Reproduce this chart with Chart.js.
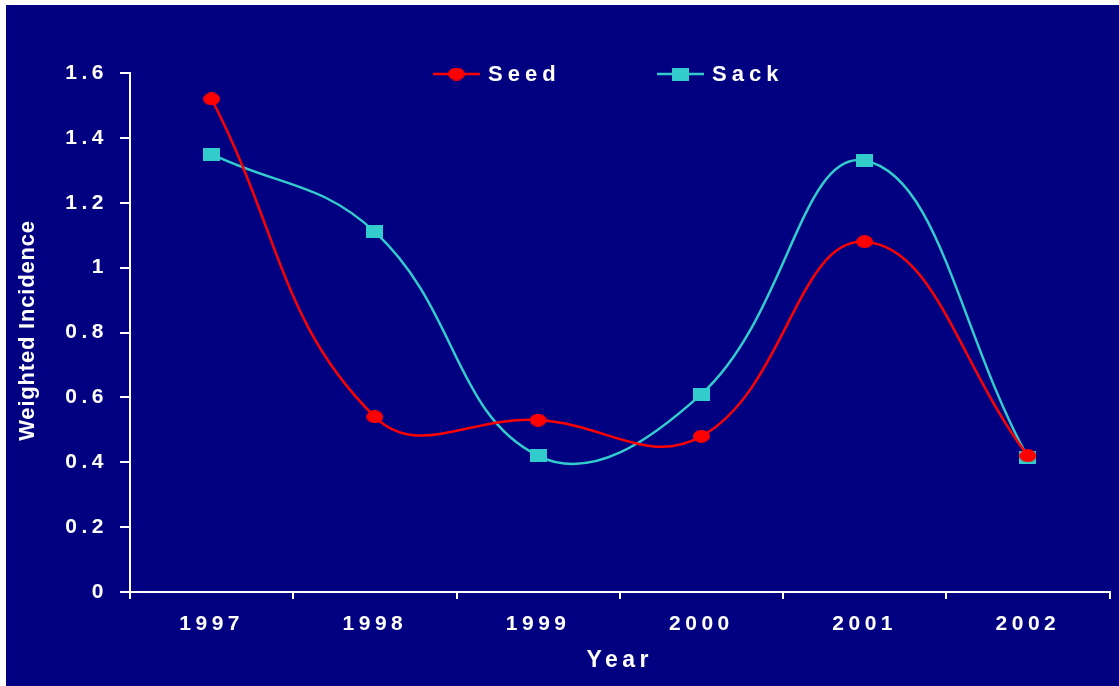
<!DOCTYPE html>
<html lang="en">
<head>
<meta charset="UTF-8" />
<title>Weighted Incidence</title>
<script src="https://cdn.jsdelivr.net/npm/chart.js@4.4.0/dist/chart.umd.min.js"></script>
<style>
    body { margin: 0; background: #fff; }
    .frame { position: absolute; left: 6px; top: 5px; width: 1113px; height: 681px; background: #000080; }
    canvas { display: block; }
</style>
</head>
<body>
<div class="frame"><canvas id="chart" width="1113" height="681"></canvas></div>
<script>
    // data
    const years = ['1997', '1998', '1999', '2000', '2001', '2002'];
    const seed = [1.52, 0.54, 0.53, 0.48, 1.08, 0.42];
    const sack = [1.35, 1.11, 0.42, 0.61, 1.33, 0.415];
    const yTickLabels = ['0', '0.2', '0.4', '0.6', '0.8', '1', '1.2', '1.4', '1.6'];
    const seriesNames = ['Seed', 'Sack'];
    const seriesColors = ['#FF0000', '#33CCCC'];
    const xTitle = 'Year';
    const yTitle = 'Weighted Incidence';

    const FONT = '"Liberation Sans", Arial, sans-serif';
    Chart.defaults.font.family = FONT;
    Chart.defaults.color = '#fff';

    // excel style markers: wide ellipse and wide square
    function markerImage(shape, color) {
        const c = document.createElement('canvas');
        c.width = 17; c.height = 13;
        const g = c.getContext('2d');
        g.fillStyle = color;
        if (shape === 'ellipse') {
            g.beginPath();
            g.ellipse(8.5, 6.5, 8.5, 6.5, 0, 0, Math.PI * 2);
            g.fill();
        } else {
            g.fillRect(0, 0, 17, 13);
        }
        return c;
    }
    const markers = [markerImage('ellipse', seriesColors[0]), markerImage('rect', seriesColors[1])];

    // canvas letter spacing for the spaced out labels
    const spacingPlugin = {
        id: 'spacing',
        beforeUpdate(chart) { chart.ctx.letterSpacing = '4.5px'; },
        beforeLayout(chart) { chart.ctx.letterSpacing = '4.5px'; },
        beforeDraw(chart) { chart.ctx.letterSpacing = '4.5px'; }
    };

    // y title and legend drawn by hand (different spacing, legend sits inside the plot)
    const extrasPlugin = {
        id: 'extras',
        afterDraw(chart) {
            const ctx = chart.ctx;
            const area = chart.chartArea;

            ctx.save();
            ctx.fillStyle = '#fff';
            ctx.letterSpacing = '0.8px';
            ctx.font = 'bold 22px ' + FONT;
            ctx.translate(22, (area.top + area.bottom) / 2 - 2);
            ctx.rotate(-Math.PI / 2);
            ctx.textAlign = 'center';
            ctx.textBaseline = 'middle';
            ctx.fillText(yTitle, 0, 0);
            ctx.restore();

            const legendX = [427, 651];
            const legendY = 69;
            chart.data.datasets.forEach((ds, i) => {
                const x0 = legendX[i];
                ctx.save();
                ctx.strokeStyle = ds.borderColor;
                ctx.lineWidth = 2.5;
                ctx.beginPath();
                ctx.moveTo(x0, legendY);
                ctx.lineTo(x0 + 47, legendY);
                ctx.stroke();
                const m = ds.pointStyle;
                ctx.drawImage(m, x0 + 23.5 - m.width / 2, legendY - m.height / 2);
                ctx.fillStyle = '#fff';
                ctx.letterSpacing = '5px';
                ctx.font = 'bold 22px ' + FONT;
                ctx.textAlign = 'left';
                ctx.textBaseline = 'middle';
                ctx.fillText(ds.label, x0 + 55, legendY + 1);
                ctx.restore();
            });
        }
    };

    const ctx = document.getElementById('chart').getContext('2d');
    const chart = new Chart(ctx, {
        type: 'line',
        data: {
            labels: years,
            datasets: [seed, sack].map((values, i) => ({
                label: seriesNames[i],
                data: values,
                borderColor: seriesColors[i],
                backgroundColor: seriesColors[i],
                borderWidth: 2.5,
                tension: 0.42,
                fill: false,
                pointStyle: markers[i],
                pointRadius: 7,
                pointHoverRadius: 7
            }))
        },
        options: {
            responsive: false,
            animation: false,
            events: [],
            layout: { padding: { top: 68, right: 9, left: 0, bottom: 0 } },
            plugins: {
                legend: { display: false },
                tooltip: { enabled: false }
            },
            scales: {
                x: {
                    offset: true,
                    grid: { offset: true, drawOnChartArea: false, drawTicks: true, tickLength: 7, color: '#fff', lineWidth: 2 },
                    border: { color: '#fff', width: 2 },
                    ticks: { font: { size: 21, weight: 'bold' }, padding: 13, maxRotation: 0 },
                    title: { display: true, text: xTitle, font: { size: 23, weight: 'bold' }, padding: 12 },
                    afterFit(scale) { scale.height = 94; }
                },
                y: {
                    min: 0,
                    max: 1.6,
                    grid: { drawOnChartArea: false, drawTicks: true, tickLength: 10, color: '#fff', lineWidth: 2 },
                    border: { color: '#fff', width: 2 },
                    ticks: {
                        stepSize: 0.2,
                        font: { size: 21, weight: 'bold' },
                        padding: 12,
                        callback: (v, i) => yTickLabels[i]
                    },
                    afterFit(scale) { scale.width = 124; }
                }
            }
        },
        plugins: [spacingPlugin, extrasPlugin]
    });
</script>
</body>
</html>
